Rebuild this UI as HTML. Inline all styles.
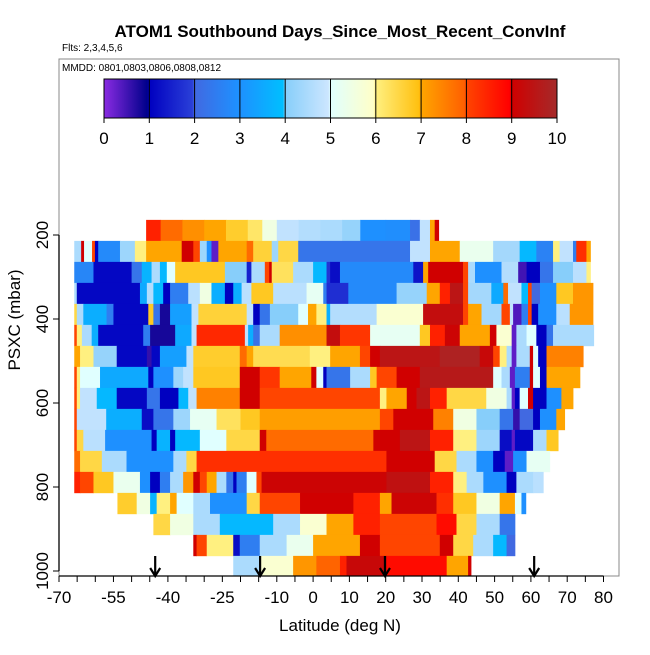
<!DOCTYPE html>
<html><head><meta charset="utf-8"><style>
html,body{margin:0;padding:0;background:#fff;}
svg text{font-family:"Liberation Sans",sans-serif;}
</style></head><body>
<svg id="chart" width="650" height="650" viewBox="0 0 650 650" xmlns="http://www.w3.org/2000/svg">
<defs>
<linearGradient id="cbgrad" x1="0" x2="1" y1="0" y2="0"></linearGradient>
<clipPath id="plotclip"><rect x="59" y="59" width="560" height="517"/></clipPath>
</defs>
<text x="340" y="37" text-anchor="middle" font-size="17" font-weight="bold">ATOM1 Southbound Days_Since_Most_Recent_ConvInf</text>
<text x="62" y="51" font-size="10">Flts: 2,3,4,5,6</text>
<rect x="59" y="59" width="560" height="517" fill="none" stroke="#888" stroke-width="1"/>
<text x="62" y="71" font-size="10">MMDD: 0801,0803,0806,0808,0812</text>
<g id="heat" clip-path="url(#plotclip)"></g>
<g id="cbar"></g>
<g id="axes"></g>
<g id="arrows"></g>
<text x="340" y="631" text-anchor="middle" font-size="17">Latitude (deg N)</text>
<text x="20" y="320" text-anchor="middle" font-size="17" transform="rotate(-90 20 320)">PSXC (mbar)</text>
</svg>
<script>
const levels = [189,239,289,339,389,439,489,539,589,639,689,739,789,839,889,939,989];
const xTicks = [-70,-65,-60,-55,-50,-45,-40,-35,-30,-25,-20,-15,-10,-5,0,5,10,15,20,25,30,35,40,45,50,55,60,65,70,75,80];
const xLabels = [-70,-55,-40,-25,-10,0,10,20,30,40,50,60,70,80];
const yTicks = [200,400,600,800,1000];
const cbTicks = [0,1,2,3,4,5,6,7,8,9,10];
const arrowLats = [-43.5,-14.6,19.8,60.9];
const row0 = [[-46,-42,8.5],[-42,-36,7.8],[-36,-30,7.3],[-30,-24,7.0],[-24,-18,6.7],[-18,-14,6.2],[-14,-10,5.5],[-10,-4,4.8],[-4,2,4.6],[2,8,4.5],[8,13,4.2],[13,20,3.0],[20,26.7,2.9],[26.7,29.4,2.2],[29.4,32.2,4.8],[32.2,33.5,7],[33.5,34.6,9]];
const row1 = [[-65.8,-63.9,4.5],[-63.9,-63.1,9],[-63.1,-60.9,5],[-60.9,-60.1,8],[-60.1,-59.2,1],[-59.2,-53.2,2.8],[-53.2,-49.1,4.3],[-49.1,-46,6],[-46,-36.2,7],[-36.2,-33,9],[-33,-31.2,8],[-31.2,-29.3,4.3],[-29.3,-28,3],[-28,-26.1,0.3],[-26.1,-18.3,7],[-18.3,-16.5,7.8],[-16.5,-11.4,6.6],[-11.4,-9.6,4.3],[-9.6,-4.1,6.5],[-4.1,26.7,2.3],[26.7,32.2,4.8],[32.2,40.4,7],[40.4,49.6,5.3],[49.6,56.9,4.4],[56.9,61.5,3.8],[61.5,66.1,2.6],[66.1,67.9,6],[67.9,71.6,4.8],[71.6,72.5,2.5],[72.5,75.3,8.3],[75.3,76.4,7]];
const row2 = [[-65.8,-60.5,2.7],[-60.5,-50,1.1],[-50,-47.2,2.3],[-47.2,-44.5,3.7],[-44.5,-42.2,4.5],[-42.2,-40.3,3.8],[-40.3,-38,5],[-38,-24.3,6.8],[-24.3,-18.3,4],[-18.3,-17,1.5],[-17,-13.3,4.5],[-13.3,-12.1,8],[-12.1,-11.4,9],[-11.4,-5.5,6.3],[-5.5,0,4.5],[0,3.7,3.8],[3.7,4.7,1.8],[4.7,7.4,1.2],[7.4,27.6,2.8],[27.6,30.3,1.3],[30.3,31.7,7],[31.7,41.3,9],[41.3,42.7,8],[42.7,44.6,4.5],[44.6,51.9,3],[51.9,56.5,4.6],[56.5,58.8,0.5],[58.8,62.5,1],[62.5,66.1,2.3],[66.1,71.6,4],[71.6,75.3,4.7],[75.3,76.4,6]];
const row3 = [[-65.8,-65.1,4.5],[-65.1,-47.7,1.1],[-47.7,-45.8,3.5],[-45.8,-44,4.6],[-44,-41.3,3.8],[-41.3,-39.4,1],[-39.4,-34.4,2.5],[-34.4,-31.2,4.7],[-31.2,-28,5.5],[-28,-24.3,3.6],[-24.3,-22,1],[-22,-19.7,3.6],[-19.7,-17,4.7],[-17,-11,6.8],[-11,-1.8,4.7],[-1.8,2.8,5.2],[2.8,3.7,2.5],[3.7,9.7,1.7],[9.7,23,2.8],[23,31.3,4.2],[31.3,34.9,7],[34.9,37.7,8.5],[37.7,41.3,9.5],[41.3,42.7,8],[42.7,49.1,4.4],[49.1,52.4,3.5],[52.4,53.7,7.8],[53.7,57.4,4.8],[57.4,59.2,3.8],[59.2,60.2,8],[60.2,62.5,2],[62.5,67,3],[67,71.6,6.8],[71.6,77.1,7.2]];
const row4 = [[-65.8,-65.1,6.5],[-65.1,-63.3,4.5],[-63.3,-56.9,3.6],[-56.9,-55,2.5],[-55,-45.4,1.1],[-45.4,-44,6.8],[-44,-42.2,2.3],[-42.2,-39.4,0.8],[-39.4,-33.5,3.3],[-33.5,-31.6,4.8],[-31.6,-18.3,6.6],[-18.3,-16.5,4.8],[-16.5,-14.7,1],[-14.7,-11.9,2.3],[-11.9,-4.1,4],[-4.1,-1.4,5],[-1.4,0.9,7],[0.9,3.7,6],[3.7,4.7,3.6],[4.7,17.5,4.6],[17.5,30.3,5.8],[30.3,41.3,9.3],[41.3,42.7,8],[42.7,46.4,7],[46.4,51.9,4.4],[51.9,54.2,8],[54.2,55.1,4.8],[55.1,57.4,0.4],[57.4,59.2,2.5],[59.2,60.2,8],[60.2,62,1],[62,67,3],[67,70.7,4.7],[70.7,77.1,7.2]];
const row5 = [[-65.8,-65.1,8],[-65.1,-63.7,6],[-63.7,-61,4.5],[-61,-59.2,3.6],[-59.2,-46.8,1.1],[-46.8,-44.9,2.5],[-44.9,-38,0.8],[-38,-33.5,3.5],[-33.5,-32.1,4.8],[-32.1,-18.8,8.4],[-18.8,-17.9,4.8],[-17.9,-16.5,3.6],[-16.5,-14.7,2.2],[-14.7,-9.2,4.5],[-9.2,3.7,7.3],[3.7,7.4,9.3],[7.4,15.7,8.2],[15.7,29.4,5.2],[29.4,32.2,6.8],[32.2,36.3,8.5],[36.3,40.4,9.1],[40.4,48.7,7],[48.7,50.5,9],[50.5,54.7,5.8],[54.7,56,0.3],[56,58.8,4.5],[58.8,61.5,5],[61.5,64.3,1],[64.3,66.1,2.3],[66.1,77.3,4.5]];
const row6 = [[-65.8,-64.2,7],[-64.2,-60.5,6],[-60.5,-54.1,4.2],[-54.1,-45.8,1.1],[-45.8,-44.5,0.6],[-44.5,-42.2,1.1],[-42.2,-34.9,3.3],[-34.9,-33,4.8],[-33,-20.2,6.7],[-20.2,-18.3,7.8],[-18.3,-16.5,7],[-16.5,-0.9,6.4],[-0.9,4.7,6],[4.7,12.9,7],[12.9,15.7,8],[15.7,18.4,9],[18.4,34.9,9.5],[34.9,45.9,9.8],[45.9,49.6,9.2],[49.6,51.4,8],[51.4,53.3,6],[53.3,54.7,4.5],[54.7,56,0.3],[56,59.7,4.5],[59.7,60.6,9],[60.6,62,5],[62,64.3,1],[64.3,74.4,7.5]];
const row7 = [[-65.8,-65.1,8],[-65.1,-64.2,6],[-64.2,-58.7,5],[-58.7,-45.4,3.5],[-45.4,-44,1],[-44,-38.5,3],[-38.5,-35.8,4.3],[-35.8,-33,4.8],[-33,-20.2,6.8],[-20.2,-14.7,9],[-14.7,-9.2,8.2],[-9.2,-0.5,7],[-0.5,0.9,9],[0.9,2.8,5],[2.8,3.7,1],[3.7,10.2,2.3],[10.2,15.7,4.5],[15.7,17.5,6.8],[17.5,23,8],[23,29.4,9],[29.4,49.6,9.6],[49.6,51.9,5],[51.9,54.2,4.5],[54.2,55.6,0.3],[55.6,59.7,2.5],[59.7,60.6,9],[60.6,62.5,5],[62.5,64.3,1],[64.3,73.5,7]];
const row8 = [[-65.8,-65.1,8],[-65.1,-64.2,6],[-64.2,-59.6,4.8],[-59.6,-54.1,3.8],[-54.1,-45.8,1.1],[-45.8,-42.2,2.3],[-42.2,-37.1,1],[-37.1,-34.4,3.8],[-34.4,-32.1,4.8],[-32.1,-20.2,7.5],[-20.2,-14.7,9],[-14.7,18.4,8],[18.4,20.2,6],[20.2,25.8,7],[25.8,28.5,9],[28.5,32.2,9.5],[32.2,36.8,8.5],[36.8,47.7,6.5],[47.7,53.3,5.5],[53.3,54.7,4.5],[54.7,55.6,0.3],[55.6,56.9,1],[56.9,59.2,5],[59.2,60.6,9],[60.6,64.3,1],[64.3,68.4,3],[68.4,71.6,7]];
const row9 = [[-65.8,-65.1,8],[-65.1,-57,4.8],[-57,-47.2,3.6],[-47.2,-44,1.2],[-44,-38.5,2.3],[-38.5,-33.9,4.3],[-33.9,-26.6,5.2],[-26.6,-20,6.3],[-20,-14.7,6.8],[-14.7,18.4,7.1],[18.4,22.1,8],[22.1,33.1,9],[33.1,38.6,7.5],[38.6,45,5.5],[45,51.4,4],[51.4,55.1,2.3],[55.1,56.9,0.6],[56.9,60.6,2],[60.6,62.5,1],[62.5,67,3],[67,69.3,7]];
const row10 = [[-65.8,-65.1,8],[-65.1,-63.3,6.5],[-63.3,-57.3,4.7],[-57.3,-44.5,3],[-44.5,-43.1,1],[-43.1,-39.4,3.7],[-39.4,-38,1],[-38,-31.2,3.8],[-31.2,-23.9,5],[-23.9,-14.7,6.5],[-14.7,-12.9,9],[-12.9,16.6,7.8],[16.6,23.9,9],[23.9,32.2,9.5],[32.2,38.6,8.5],[38.6,45,6],[45,51.4,4.3],[51.4,54.7,1.2],[54.7,55.6,0.3],[55.6,60.6,1.1],[60.6,64.3,4.5],[64.3,67.5,6.8]];
const row11 = [[-65.8,-64.2,7.8],[-64.2,-58.2,6.5],[-58.2,-51.4,4.5],[-51.4,-38.5,3],[-38.5,-34.9,4.5],[-34.9,-32.1,6.5],[-32.1,20.2,8.3],[20.2,33.5,9],[33.5,39.5,6.5],[39.5,45,4.5],[45,49.6,3],[49.6,52.8,1],[52.8,55.1,0.3],[55.1,58.8,3],[58.8,65.2,5.2]];
const row12 = [[-65.8,-64.2,8.5],[-64.2,-60.5,8],[-60.5,-55,6.8],[-55,-47.7,5.3],[-47.7,-44.9,3],[-44.9,-42.2,1],[-42.2,-39.4,2.5],[-39.4,-35.8,4.5],[-35.8,-33,7.2],[-33,-31.2,9],[-31.2,-29.3,8],[-29.3,-26.6,7],[-26.6,-23.9,4.5],[-23.9,-22,2.3],[-22,-21.1,1],[-21.1,-18.3,2.5],[-18.3,-15.6,5],[-15.6,-14.2,8],[-14.2,20.2,9.1],[20.2,32.2,9.4],[32.2,38.6,8.5],[38.6,42.3,6],[42.3,46.9,4.5],[46.9,53.3,3],[53.3,56,1],[56,60.6,4.5],[60.6,63.4,4.7]];
const row13 = [[-53.9,-48.6,6.7],[-48.6,-44.9,5.5],[-44.9,-43.1,3.7],[-43.1,-39.4,6],[-39.4,-37.6,7],[-37.6,-33,5],[-33,-28.4,4.5],[-28.4,-18.3,3],[-18.3,-14.7,6.5],[-14.7,-3.6,8],[-3.6,11.1,9],[11.1,18.4,8.5],[18.4,21.6,7],[21.6,34,9.1],[34,38.6,8.3],[38.6,45,6.8],[45,51.4,5.5],[51.4,55.6,7],[55.6,57.4,5],[57.4,58.6,3]];
const row14 = [[-44,-39.4,6.5],[-39.4,-33,5.5],[-33,-25.7,4.5],[-25.7,-11,3.8],[-11,-3.6,4.5],[-3.6,3.7,5.8],[3.7,11.1,7],[11.1,18.4,8.5],[18.4,34,8],[34,39.5,8.8],[39.5,45,6.5],[45,51.4,4.5],[51.4,55.6,2.3]];
const row15 = [[-33,-32.1,9],[-32.1,-29.3,8],[-29.3,-22,6],[-22,-20.2,1.2],[-20.2,-14.7,2.5],[-14.7,-7.3,4.5],[-7.3,0,5.3],[0,12.9,7],[12.9,18.4,9],[18.4,34.9,8],[34.9,38.6,9],[38.6,44.1,6.5],[44.1,49.6,4.5],[49.6,53.3,3.8],[53.3,55.6,2]];
const row16 = [[-22,-14.7,4.5],[-14.7,-5.5,5.8],[-5.5,0.9,7.2],[0.9,7.4,7.9],[7.4,9.2,8.5],[9.2,20.2,9.2],[20.2,36.8,8.8],[36.8,42.7,7],[42.7,43.5,9]];
const rows = [row0,row1,row2,row3,row4,row5,row6,row7,row8,row9,row10,row11,row12,row13,row14,row15,row16];

const NS = "http://www.w3.org/2000/svg";
function xS(lat){ return 59 + (lat + 70) * 3.63; }
function yS(p){ return 235 + (p - 200) * 0.42; }
const stops = [[0,"#8a2be2"],[0.95,"#00008b"],[1.0,"#0000c0"],[1.95,"#2a3fd8"],[2.0,"#4169e1"],[2.95,"#1e90ff"],[3.0,"#1e90ff"],[3.95,"#00bfff"],[4.0,"#87cefa"],[4.95,"#cce6ff"],[5.0,"#e0ffff"],[5.95,"#ffffc8"],[6.0,"#fff080"],[6.95,"#ffc010"],[7.0,"#ffa500"],[7.95,"#ff6000"],[8.0,"#ff4500"],[8.95,"#ff0000"],[9.0,"#d00000"],[10,"#a52a2a"]];
function hex(h){ return [parseInt(h.substr(1,2),16),parseInt(h.substr(3,2),16),parseInt(h.substr(5,2),16)]; }
function colorOf(v){
  v = Math.max(0, Math.min(10, v));
  for (let i = 0; i < stops.length - 1; i++) {
    const a = stops[i], b = stops[i+1];
    if (v >= a[0] && v <= b[0]) {
      const t = (v - a[0]) / (b[0] - a[0] || 1);
      const ca = hex(a[1]), cb = hex(b[1]);
      return "rgb(" + ca.map((c,k)=>Math.round(c + (cb[k]-c)*t)).join(",") + ")";
    }
  }
  return stops[stops.length-1][1];
}
function mk(tag, attrs){ const e = document.createElementNS(NS, tag); for (const k in attrs) e.setAttribute(k, attrs[k]); return e; }

const heat = document.getElementById("heat");
rows.forEach((segs, r) => {
  const y0 = yS(levels[r] - 25), y1 = yS(levels[r] + 25);
  segs.forEach(s => {
    const x0 = xS(s[0]), x1 = xS(s[1]);
    const rc = mk("rect", {x: x0.toFixed(2), y: y0.toFixed(2), width: (x1 - x0 + 0.4).toFixed(2), height: (y1 - y0 + 0.3).toFixed(2), fill: colorOf(s[2])});
    
    
    heat.appendChild(rc);
  });
});

// colorbar
const grad = document.getElementById("cbgrad");
stops.forEach(s => { grad.appendChild(mk("stop", {offset: (s[0]/10*100) + "%", "stop-color": s[1]})); });
const cb = document.getElementById("cbar");
const cbX0 = 104, cbX1 = 557, cbY0 = 79, cbY1 = 118;
const cbRect = mk("rect", {x: cbX0, y: cbY0, width: cbX1 - cbX0, height: cbY1 - cbY0, fill: "url(#cbgrad)", stroke: "#000", "stroke-width": 1});


cb.appendChild(cbRect);
cbTicks.forEach(t => {
  const x = cbX0 + (cbX1 - cbX0) * t / 10;
  const ln = mk("line", {x1: x, x2: x, y1: cbY0, y2: cbY1 + 5, stroke: "#000", "stroke-width": 1});
  
  
  cb.appendChild(ln);
  const tx = mk("text", {x: x, y: 144, "text-anchor": "middle", "font-size": 17});
  tx.textContent = t;
  
  
  cb.appendChild(tx);
});

// axes
const ax = document.getElementById("axes");
const xl = mk("line", {x1: xS(-70), x2: xS(80), y1: 576, y2: 576, stroke: "#000", "stroke-width": 1.3});


ax.appendChild(xl);
xTicks.forEach(t => {
  const x = xS(t);
  const ln = mk("line", {x1: x, x2: x, y1: 576, y2: 582, stroke: "#000", "stroke-width": 1});
  
  
  ax.appendChild(ln);
});
xLabels.forEach(t => {
  const tx = mk("text", {x: xS(t), y: 603, "text-anchor": "middle", "font-size": 17});
  tx.textContent = t;
  
  
  ax.appendChild(tx);
});
const yl = mk("line", {x1: 59, x2: 59, y1: yS(200), y2: yS(1000), stroke: "#000", "stroke-width": 1.3});


ax.appendChild(yl);
yTicks.forEach(t => {
  const y = yS(t);
  const ln = mk("line", {x1: 53, x2: 59, y1: y, y2: y, stroke: "#000", "stroke-width": 1});
  
  
  ax.appendChild(ln);
  const tx = mk("text", {x: 48, y: y, "text-anchor": "middle", "font-size": 17, transform: "rotate(-90 48 " + y + ")"});
  tx.textContent = t;
  
  
  ax.appendChild(tx);
});

// arrows
const ar = document.getElementById("arrows");
arrowLats.forEach(l => {
  const x = xS(l);
  const g = mk("g", {stroke: "#000", "stroke-width": 2.2, fill: "none"});
  
  
  g.appendChild(mk("line", {x1: x, x2: x, y1: 556, y2: 576}));
  g.appendChild(mk("polyline", {points: (x-5) + ",568 " + x + ",576 " + (x+5) + ",568"}));
  ar.appendChild(g);
});
</script>
</body></html>
